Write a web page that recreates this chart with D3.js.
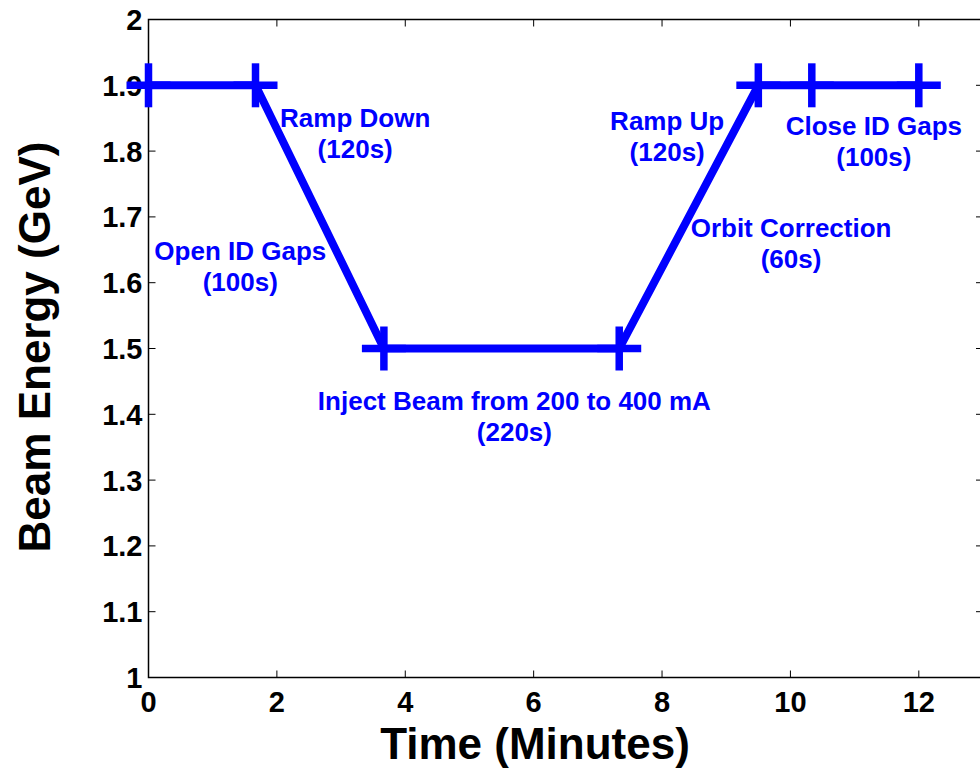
<html>
<head>
  <script src="https://d3js.org/d3.v7.min.js"></script>
  <style>
    body { margin: 0; background: #fff; }
    text { font-family: "Liberation Sans", Arial, sans-serif; font-weight: bold; }
    .frame line, .frame .domain { stroke: #000; }
  </style>
</head>
<body>
  <svg id="chart" width="980" height="773"></svg>
  <script>
    // beam energy schedule (time in minutes, energy in GeV)
    const times = [0, 1.667, 3.667, 7.333, 9.5, 10.333, 12];
    const energy = [1.9, 1.9, 1.5, 1.5, 1.9, 1.9, 1.9];

    const xTicks = [0, 2, 4, 6, 8, 10, 12];
    const yTicks = [1, 1.1, 1.2, 1.3, 1.4, 1.5, 1.6, 1.7, 1.8, 1.9, 2];

    // annotation text, anchored in data coordinates
    const noteLines = [
      ["Open ID Gaps", "(100s)"],
      ["Ramp Down", "(120s)"],
      ["Inject Beam from 200 to 400 mA", "(220s)"],
      ["Ramp Up", "(120s)"],
      ["Close ID Gaps", "(100s)"],
      ["Orbit Correction", "(60s)"]
    ];
    const noteTime = [1.43, 3.22, 5.70, 8.08, 11.30, 10.01];
    const noteEnergy = [1.634, 1.837, 1.406, 1.832, 1.824, 1.670];

    const svg = d3.select("svg#chart");
    const margin = { top: 19.5, left: 148.5, right: -3, bottom: 95.5 };
    const width = +svg.attr("width");
    const height = +svg.attr("height");

    const x = d3.scaleLinear().domain([0, 13]).range([margin.left, width - margin.right]);
    const y = d3.scaleLinear().domain([1, 2]).range([height - margin.bottom, margin.top]);

    const frame = svg.append("g").attr("class", "frame");
    const tickLen = 7;

    // box
    frame.append("rect")
      .attr("x", x(0)).attr("y", y(2))
      .attr("width", x(13) - x(0)).attr("height", y(1) - y(2))
      .attr("fill", "none").attr("stroke", "#000").attr("stroke-width", 1.5);

    // ticks pointing inwards, like matlab
    frame.selectAll(".xt").data(xTicks).join("line")
      .attr("x1", d => x(d)).attr("x2", d => x(d))
      .attr("y1", y(1)).attr("y2", y(1) - tickLen)
      .attr("stroke-width", 1);
    frame.selectAll(".xt2").data(xTicks).join("line")
      .attr("x1", d => x(d)).attr("x2", d => x(d))
      .attr("y1", y(2)).attr("y2", y(2) + tickLen)
      .attr("stroke-width", 1);
    frame.selectAll(".yt").data(yTicks).join("line")
      .attr("y1", d => y(d)).attr("y2", d => y(d))
      .attr("x1", x(0)).attr("x2", x(0) + tickLen)
      .attr("stroke-width", 1);
    frame.selectAll(".yt2").data(yTicks).join("line")
      .attr("y1", d => y(d)).attr("y2", d => y(d))
      .attr("x1", x(13)).attr("x2", x(13) - tickLen)
      .attr("stroke-width", 1);

    svg.append("g").selectAll("text").data(xTicks).join("text")
      .attr("x", d => x(d))
      .attr("y", y(1) + 34)
      .attr("text-anchor", "middle")
      .style("font-size", "29px")
      .text(d => d);

    svg.append("g").selectAll("text").data(yTicks).join("text")
      .attr("x", x(0) - 6)
      .attr("y", d => y(d))
      .attr("dy", "0.36em")
      .attr("text-anchor", "end")
      .style("font-size", "29px")
      .text(d => d3.format("~g")(d));

    // axis titles
    svg.append("text")
      .text("Time (Minutes)")
      .attr("x", 535)
      .attr("y", 759)
      .attr("text-anchor", "middle")
      .style("font-size", "44px");

    svg.append("text")
      .text("Beam Energy (GeV)")
      .attr("transform", "translate(50," + 347 + ") rotate(-90)")
      .attr("text-anchor", "middle")
      .style("font-size", "44px");

    // schedule line
    const pts = times.map((t, i) => [t, energy[i]]);
    const line = d3.line().x(d => x(d[0])).y(d => y(d[1]));
    svg.append("path")
      .datum(pts)
      .attr("d", line)
      .attr("fill", "none")
      .attr("stroke", "#0000ff")
      .attr("stroke-width", 8)
      .attr("stroke-linejoin", "miter");

    // plus markers
    const arm = 22;
    const marks = svg.append("g").attr("stroke", "#0000ff").attr("stroke-width", 7.5);
    marks.selectAll(".h").data(pts).join("line")
      .attr("x1", d => x(d[0]) - arm).attr("x2", d => x(d[0]) + arm)
      .attr("y1", d => y(d[1])).attr("y2", d => y(d[1]));
    marks.selectAll(".v").data(pts).join("line")
      .attr("x1", d => x(d[0])).attr("x2", d => x(d[0]))
      .attr("y1", d => y(d[1]) - arm).attr("y2", d => y(d[1]) + arm);

    // annotations
    const notes = svg.append("g").attr("fill", "#0000ff").style("font-size", "26px");
    noteLines.forEach((lines, i) => {
      const t = notes.append("text")
        .attr("x", x(noteTime[i]))
        .attr("y", y(noteEnergy[i]))
        .attr("text-anchor", "middle");
      lines.forEach((s, j) => {
        t.append("tspan")
          .attr("x", x(noteTime[i]))
          .attr("dy", j === 0 ? 0 : 31)
          .text(s);
      });
    });
  </script>
</body>
</html>
